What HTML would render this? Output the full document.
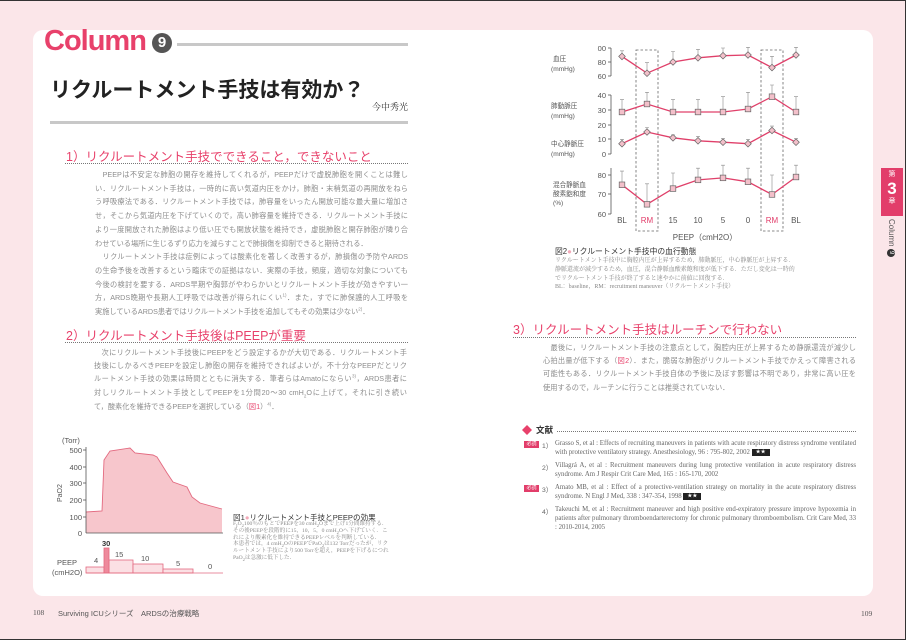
<!DOCTYPE html>
<html><head><meta charset="utf-8">
<style>
*{margin:0;padding:0;box-sizing:border-box}
body{width:906px;height:640px;overflow:hidden;background:#fbe6e9;font-family:"Liberation Sans","Noto Sans CJK JP",sans-serif;position:relative}
.frame{position:absolute;left:0;top:0;width:906px;height:640px;border:1px solid #333;border-left:none;pointer-events:none}
.panel{position:absolute;left:33px;top:30px;width:840px;height:566px;background:#fff;border-radius:10px}
.a{position:absolute;white-space:nowrap}
.l{position:absolute;width:313px;font-size:7.2px;color:#8c8c8c;text-align:justify;text-align-last:justify;line-height:10px;height:10px;overflow:visible}
.n{text-align-last:left}
.h{position:absolute;color:#e8416b;font-size:12.5px;white-space:nowrap}
.dot{position:absolute;border-top:1.3px dotted #777;height:0}
.cap{position:absolute;font-size:5.6px;color:#888;line-height:6.8px;font-family:"Liberation Serif","Noto Serif CJK SC",serif}
.ref{position:absolute;left:555px;width:301px;font-size:6.8px;color:#666;line-height:9px;font-family:"Liberation Serif","Noto Serif CJK SC",serif;text-align:justify}
.rn{position:absolute;left:542px;font-size:6.8px;color:#666}
.bd{position:absolute;left:524px;width:15px;height:7px;background:#e23d6a;color:#fff;font-size:5px;text-align:center;line-height:7px}
.st{display:inline-block;background:#222;color:#fff;font-size:5px;padding:0 4px;line-height:7px;vertical-align:middle}
sup,sub{font-size:4.5px;line-height:0}
</style></head><body>
<div class="panel"></div>

<div class="a" style="left:44px;top:25px;font-size:29px;font-weight:bold;color:#e8416b;letter-spacing:-1px">Column</div>
<div class="a" style="left:152px;top:33px;width:20px;height:20px;border-radius:50%;background:#555;color:#fff;font-size:15px;font-weight:bold;text-align:center;line-height:20px">9</div>
<div class="a" style="left:177px;top:43px;width:231px;height:3px;background:#c8c8c8"></div>
<div class="a" style="left:50px;top:74px;font-size:21px;font-weight:bold;color:#222">リクルートメント手技は有効か？</div>
<div class="a" style="left:372px;top:100px;font-size:9px;color:#333;font-family:'Liberation Serif','Noto Serif CJK SC',serif">今中秀光</div>
<div class="a" style="left:50px;top:121px;width:358px;height:3px;background:#c8c8c8"></div>

<div class="h" style="left:66px;top:146px">1）リクルートメント手技でできること，できないこと</div>
<div class="dot" style="left:65px;top:163px;width:343px"></div>
<div class="l" style="left:95px;top:170px">　PEEPは不安定な肺胞の開存を維持してくれるが，PEEPだけで虚脱肺胞を開くことは難し</div>
<div class="l" style="left:95px;top:184px">い．リクルートメント手技は，一時的に高い気道内圧をかけ，肺胞・末梢気道の再開放をねら</div>
<div class="l" style="left:95px;top:197px">う呼吸療法である．リクルートメント手技では，肺容量をいったん開放可能な最大量に増加さ</div>
<div class="l" style="left:95px;top:211px">せ，そこから気道内圧を下げていくので，高い肺容量を維持できる．リクルートメント手技に</div>
<div class="l" style="left:95px;top:225px">より一度開放された肺胞はより低い圧でも開放状態を維持でき，虚脱肺胞と開存肺胞が隣り合</div>
<div class="l n" style="left:95px;top:239px">わせている場所に生じるずり応力を減らすことで肺損傷を抑制できると期待される．</div>
<div class="l" style="left:95px;top:252px">　リクルートメント手技は症例によっては酸素化を著しく改善するが，肺損傷の予防やARDS</div>
<div class="l" style="left:95px;top:266px">の生命予後を改善するという臨床での証拠はない．実際の手技，頻度，適切な対象についても</div>
<div class="l" style="left:95px;top:280px">今後の検討を要する．ARDS早期や胸郭がやわらかいとリクルートメント手技が効きやすい一</div>
<div class="l" style="left:95px;top:293px">方，ARDS晩期や長期人工呼吸では改善が得られにくい<sup>1)</sup>．また，すでに肺保護的人工呼吸を</div>
<div class="l n" style="left:95px;top:307px">実施しているARDS患者ではリクルートメント手技を追加してもその効果は少ない<sup>2)</sup>．</div>

<div class="h" style="left:66px;top:325px">2）リクルートメント手技後はPEEPが重要</div>
<div class="dot" style="left:65px;top:342px;width:343px"></div>
<div class="l" style="left:94px;top:348px">　次にリクルートメント手技後にPEEPをどう設定するかが大切である．リクルートメント手</div>
<div class="l" style="left:94px;top:361px">技後にしかるべきPEEPを設定し肺胞の開存を維持できればよいが，不十分なPEEPだとリク</div>
<div class="l" style="left:94px;top:374px">ルートメント手技の効果は時間とともに消失する．筆者らはAmatoにならい<sup>3)</sup>，ARDS患者に</div>
<div class="l" style="left:94px;top:388px">対しリクルートメント手技としてPEEPを1分間20〜30 cmH<sub>2</sub>Oに上げて，それに引き続い</div>
<div class="l n" style="left:94px;top:402px">て，酸素化を維持できるPEEPを選択している（<span style="color:#e8416b">図1</span>）<sup>4)</sup>．</div>

<svg class="a" style="left:0;top:0" width="906" height="640">
  <g font-family="Liberation Sans, sans-serif" font-size="7.5" fill="#555">
    <text x="62" y="443">(Torr)</text>
    <text x="82" y="453" text-anchor="end">500</text>
    <text x="82" y="470" text-anchor="end">400</text>
    <text x="82" y="486" text-anchor="end">300</text>
    <text x="82" y="503" text-anchor="end">200</text>
    <text x="82" y="520" text-anchor="end">100</text>
    <text x="82" y="536" text-anchor="end">0</text>
    <text transform="translate(62,502) rotate(-90)" font-size="7">PaO2</text>
  </g>
  <polygon points="86,512 102,511 104,460 110,451 130,448 135,453 153,455 157,457 167,473 173,482 187,487 192,497 200,503 222,509 222,533 86,533" fill="#f7c6cc" stroke="none"/>
  <polyline points="86,512 102,511 104,460 110,451 130,448 135,453 153,455 157,457 167,473 173,482 187,487 192,497 200,503 222,509" fill="none" stroke="#e36a80" stroke-width="0.9"/>
  <line x1="86" y1="447" x2="86" y2="533" stroke="#555" stroke-width="0.8"/>
  <line x1="86" y1="533" x2="223" y2="533" stroke="#555" stroke-width="0.8"/>
  <g stroke="#555" stroke-width="0.8"><line x1="83" x2="86" y1="450" y2="450"/><line x1="83" x2="86" y1="467" y2="467"/><line x1="83" x2="86" y1="483" y2="483"/><line x1="83" x2="86" y1="500" y2="500"/><line x1="83" x2="86" y1="517" y2="517"/></g>
  <g fill="#fbe0e4" stroke="#e36a80" stroke-width="0.8">
    <rect x="86" y="567" width="18" height="6"/>
    <rect x="109" y="560" width="24" height="13"/>
    <rect x="133" y="564" width="30" height="9"/>
    <rect x="163" y="569" width="30" height="4"/>
  </g>
  <rect x="104" y="548" width="5" height="25" fill="#ee8a9c" stroke="#e36a80" stroke-width="0.8"/>
  <line x1="86" y1="573" x2="223" y2="573" stroke="#e36a80" stroke-width="0.8"/>
  <g font-family="Liberation Sans, sans-serif" font-size="7.5" fill="#555">
    <text x="102" y="546" font-weight="bold" fill="#333">30</text>
    <text x="94" y="563">4</text>
    <text x="115" y="557">15</text>
    <text x="141" y="561">10</text>
    <text x="176" y="566">5</text>
    <text x="208" y="569">0</text>
    <text x="57" y="565">PEEP</text>
    <text x="52" y="575">(cmH2O)</text>
  </g>

  <defs>
    <polygon id="dm" points="0,-3.3 3.3,0 0,3.3 -3.3,0" fill="#f3c0ca" stroke="#666" stroke-width="0.7"/>
    <rect id="sq" x="-2.8" y="-2.8" width="5.6" height="5.6" fill="#f3c0ca" stroke="#666" stroke-width="0.7"/>
  </defs>
  <g fill="none" stroke="#666" stroke-width="0.8" stroke-dasharray="2.5,2">
    <rect x="636" y="50" width="22" height="181"/>
    <rect x="761" y="50" width="22" height="181"/>
  </g>
  <g stroke="#555" stroke-width="0.8">
    <line x1="611" y1="48" x2="611" y2="76"/><line x1="611" y1="95" x2="611" y2="154"/><line x1="611" y1="168" x2="611" y2="214"/>
    <line x1="608" x2="611" y1="48" y2="48"/><line x1="608" x2="611" y1="62" y2="62"/><line x1="608" x2="611" y1="76" y2="76"/>
    <line x1="608" x2="611" y1="95" y2="95"/><line x1="608" x2="611" y1="110" y2="110"/><line x1="608" x2="611" y1="125" y2="125"/><line x1="608" x2="611" y1="139" y2="139"/><line x1="608" x2="611" y1="154" y2="154"/>
    <line x1="608" x2="611" y1="175" y2="175"/><line x1="608" x2="611" y1="194" y2="194"/><line x1="608" x2="611" y1="214" y2="214"/>
  </g>
  <g font-family="Liberation Sans, sans-serif" font-size="7.5" fill="#555" text-anchor="end">
    <text x="606" y="51">00</text><text x="606" y="65">80</text><text x="606" y="79">60</text>
    <text x="606" y="98">40</text><text x="606" y="113">30</text><text x="606" y="128">20</text><text x="606" y="142">10</text><text x="606" y="157">0</text>
    <text x="606" y="178">80</text><text x="606" y="197">70</text><text x="606" y="217">60</text>
  </g>
  <g font-family="Liberation Sans, Noto Sans CJK JP, sans-serif" font-size="6.6" fill="#555">
    <text x="553" y="61">血圧</text><text x="551" y="71">(mmHg)</text>
    <text x="551" y="108">肺動脈圧</text><text x="551" y="118">(mmHg)</text>
    <text x="551" y="146">中心静脈圧</text><text x="551" y="156">(mmHg)</text>
    <text x="553" y="187">混合静脈血</text><text x="553" y="196">酸素飽和度</text><text x="553" y="205">(%)</text>
  </g>
  <g font-family="Liberation Sans, sans-serif" font-size="8" fill="#555" text-anchor="middle">
    <text x="622" y="223">BL</text><text x="647" y="223" fill="#e23d6a">RM</text><text x="673" y="223">15</text><text x="698" y="223">10</text><text x="723" y="223">5</text><text x="748" y="223">0</text><text x="772" y="223" fill="#e23d6a">RM</text><text x="796" y="223">BL</text>
    <text x="705" y="240">PEEP（cmH2O）</text>
  </g>
  <g stroke="#888" stroke-width="0.6">
    <path d="M622,56.4V50.8M647,73.2V62.7M673,62V51.5M698,57.8V49.4M723,55.7V48M748,55V47.3M772,67.6V56.4M796,55V47.3"/>
    <path d="M620,50.8h4M645,62.7h4M671,51.5h4M696,49.4h4M721,48h4M746,47.3h4M770,56.4h4M794,47.3h4"/>
    <path d="M622,112V99.6M647,104V92.3M673,112V99.6M698,112V99.6M723,112V96.7M748,109V92.3M772,96.7V85M796,112V96.7"/>
    <path d="M620,99.6h4M645,92.3h4M671,99.6h4M696,99.6h4M721,96.7h4M746,92.3h4M770,85h4M794,96.7h4"/>
    <path d="M622,143.7V139.3M647,132V127.5M673,137.8V134.9M698,140.8V136.4M723,142.2V138.6M748,143.7V139.3M772,130.5V126.1M796,142.2V138.6"/>
    <path d="M620,139.3h4M645,127.5h4M671,134.9h4M696,136.4h4M721,138.6h4M746,139.3h4M770,126.1h4M794,138.6h4"/>
    <path d="M622,184.8V171.1M647,204.3V183.8M673,188.6V173M698,179.9V168.2M723,177.9V165.2M748,181.8V168.2M772,194.5V175M796,177V165.2"/>
    <path d="M620,171.1h4M645,183.8h4M671,173h4M696,168.2h4M721,165.2h4M746,168.2h4M770,175h4M794,165.2h4"/>
  </g>
  <g fill="none" stroke="#e0406a" stroke-width="1.3">
    <polyline points="622,56.4 647,73.2 673,62 698,57.8 723,55.7 748,55 772,67.6 796,55"/>
    <polyline points="622,112 647,104 673,112 698,112 723,112 748,109 772,96.7 796,112"/>
    <polyline points="622,143.7 647,132 673,137.8 698,140.8 723,142.2 748,143.7 772,130.5 796,142.2"/>
    <polyline points="622,184.8 647,204.3 673,188.6 698,179.9 723,177.9 748,181.8 772,194.5 796,177"/>
  </g>
  <use href="#dm" x="622" y="56.4"/><use href="#dm" x="647" y="73.2"/><use href="#dm" x="673" y="62"/><use href="#dm" x="698" y="57.8"/><use href="#dm" x="723" y="55.7"/><use href="#dm" x="748" y="55"/><use href="#dm" x="772" y="67.6"/><use href="#dm" x="796" y="55"/>
  <use href="#sq" x="622" y="112"/><use href="#sq" x="647" y="104"/><use href="#sq" x="673" y="112"/><use href="#sq" x="698" y="112"/><use href="#sq" x="723" y="112"/><use href="#sq" x="748" y="109"/><use href="#sq" x="772" y="96.7"/><use href="#sq" x="796" y="112"/>
  <use href="#dm" x="622" y="143.7"/><use href="#dm" x="647" y="132"/><use href="#dm" x="673" y="137.8"/><use href="#dm" x="698" y="140.8"/><use href="#dm" x="723" y="142.2"/><use href="#dm" x="748" y="143.7"/><use href="#dm" x="772" y="130.5"/><use href="#dm" x="796" y="142.2"/>
  <use href="#sq" x="622" y="184.8"/><use href="#sq" x="647" y="204.3"/><use href="#sq" x="673" y="188.6"/><use href="#sq" x="698" y="179.9"/><use href="#sq" x="723" y="177.9"/><use href="#sq" x="748" y="181.8"/><use href="#sq" x="772" y="194.5"/><use href="#sq" x="796" y="177"/>
  <polygon points="527,425 532,430 527,435 522,430" fill="#e8416b"/>
</svg>

<div class="a" style="left:233px;top:512px;font-size:7.6px;color:#333">図1<span style="color:#f3a9b8">●</span>リクルートメント手技とPEEPの効果</div>
<div class="cap" style="left:233px;top:521px;width:157px">F<sub>I</sub>O<sub>2</sub>100％のもとでPEEPを30 cmH<sub>2</sub>Oまで上げ1分間維持する．その後PEEPを段階的に15，10，5，0 cmH<sub>2</sub>Oへ下げていく．これにより酸素化を維持できるPEEPレベルを判断している．<br>本患者では，4 cmH<sub>2</sub>OのPEEPでPaO<sub>2</sub>は132 Torrだったが，リクルートメント手技により500 Torrを超え，PEEPを下げるにつれPaO<sub>2</sub>は急激に低下した．</div>

<div class="a" style="left:555px;top:246px;font-size:7.8px;color:#333">図2<span style="color:#f3a9b8">●</span>リクルートメント手技中の血行動態</div>
<div class="cap" style="left:555px;top:257px;width:245px;font-size:6px;line-height:8.8px">リクルートメント手技中に胸腔内圧が上昇するため，肺動脈圧，中心静脈圧が上昇する．静脈還流が減少するため，血圧，混合静脈血酸素飽和度が低下する．ただし変化は一時的でリクルートメント手技が終了すると速やかに前値に回復する．<br>BL：baseline，RM：recruitment maneuver（リクルートメント手技）</div>

<div class="h" style="left:513px;top:319px">3）リクルートメント手技はルーチンで行わない</div>
<div class="dot" style="left:513px;top:337px;width:343px"></div>
<div class="l" style="left:543px;top:343px">　最後に，リクルートメント手技の注意点として，胸腔内圧が上昇するため静脈還流が減少し</div>
<div class="l" style="left:543px;top:356px">心拍出量が低下する（<span style="color:#e8416b">図2</span>）．また，脆弱な肺胞がリクルートメント手技でかえって障害される</div>
<div class="l" style="left:543px;top:369px">可能性もある．リクルートメント手技自体の予後に及ぼす影響は不明であり，非常に高い圧を</div>
<div class="l n" style="left:543px;top:383px">使用するので，ルーチンに行うことは推奨されていない．</div>

<div class="a" style="left:536px;top:424px;font-size:8.5px;font-weight:bold;color:#333">文献</div>
<div class="dot" style="left:557px;top:431px;width:299px"></div>

<div class="bd" style="top:441px">必読</div>
<div class="rn" style="top:440px">1）</div>
<div class="ref" style="top:439px">Grasso S, et al : Effects of recruiting maneuvers in patients with acute respiratory distress syndrome ventilated with protective ventilatory strategy. Anesthesiology, 96 : 795-802, 2002 <span class="st">★★</span></div>
<div class="rn" style="top:462px">2）</div>
<div class="ref" style="top:461px">Villagrá A, et al : Recruitment maneuvers during lung protective ventilation in acute respiratory distress syndrome. Am J Respir Crit Care Med, 165 : 165-170, 2002</div>
<div class="bd" style="top:485px">必読</div>
<div class="rn" style="top:484px">3）</div>
<div class="ref" style="top:483px">Amato MB, et al : Effect of a protective-ventilation strategy on mortality in the acute respiratory distress syndrome. N Engl J Med, 338 : 347-354, 1998 <span class="st">★★</span></div>
<div class="rn" style="top:506px">4）</div>
<div class="ref" style="top:505px">Takeuchi M, et al : Recruitment maneuver and high positive end-expiratory pressure improve hypoxemia in patients after pulmonary thromboendarterectomy for chronic pulmonary thromboembolism. Crit Care Med, 33 : 2010-2014, 2005</div>

<div class="a" style="left:33px;top:608px;font-size:7.5px;color:#555;font-family:'Liberation Serif',serif">108</div>
<div class="a" style="left:58px;top:608px;font-size:7.5px;color:#555">Surviving ICUシリーズ　ARDSの治療戦略</div>
<div class="a" style="left:861px;top:609px;font-size:7.5px;color:#555;font-family:'Liberation Serif',serif">109</div>

<div class="a" style="left:881px;top:168px;width:22px;height:48px;background:#e23d6a;color:#fff;text-align:center">
  <div style="font-size:7px;line-height:10px;margin-top:2px">第</div>
  <div style="font-size:17px;font-weight:bold;line-height:17px">3</div>
  <div style="font-size:7px;line-height:10px">章</div>
</div>
<div class="a" style="left:887px;top:219px;writing-mode:vertical-rl;font-size:8px;color:#555">Column <span style="display:inline-block;width:8px;height:8px;border-radius:50%;background:#333;color:#fff;font-size:6px;line-height:8px;text-align:center">9</span></div>

<div class="frame"></div>
</body></html>
